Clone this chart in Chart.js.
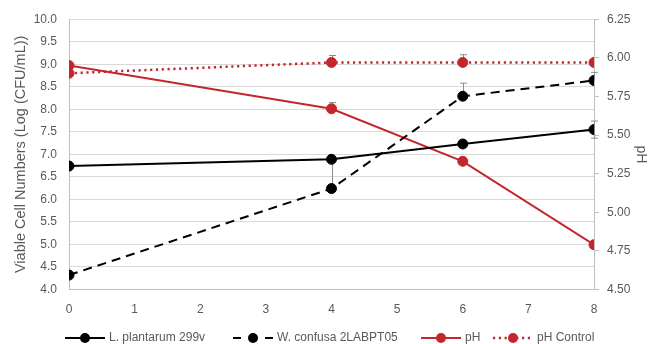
<!DOCTYPE html>
<html><head><meta charset="utf-8">
<script src="https://cdn.jsdelivr.net/npm/chart.js@4.4.0/dist/chart.umd.min.js"></script>
<style>html,body{margin:0;padding:0;background:#fff;}#wrap{width:649px;height:344px;}</style>
</head><body><div id="wrap"><canvas id="c" width="649" height="344"></canvas></div>
<script>
// ---- data ----
const days = [0, 4, 6, 8];
const seriesNames = ['L. plantarum 299v', 'W. confusa 2LABPT05', 'pH', 'pH Control'];
const lPlantarum = [6.74, 6.89, 7.23, 7.55];
const lPlantarumErrUp = [0, 0, 0.05, 0.19];
const lPlantarumErrDown = [0, 0, 0.05, 0.19];
const wConfusa = [4.32, 6.24, 8.29, 8.64];
const wConfusaErrUp = [0, 0.65, 0.29, 0.18];
const wConfusaErrDown = [0, 0, 0, 0];
const pHValues = [5.95, 5.67, 5.33, 4.79];
const pHErrUp = [0, 0.04, 0, 0];
const pHErrDown = [0, 0, 0, 0];
const pHControl = [5.90, 5.97, 5.97, 5.97];
const pHControlErrUp = [0, 0.045, 0.05, 0];
const pHControlErrDown = [0, 0, 0, 0];
const xAxisRange = [0, 8, 1];
const leftAxisRange = [4, 10, 0.5];
const rightAxisRange = [4.5, 6.25, 0.25];
const leftTitle = 'Viable Cell Numbers (Log (CFU/mL))';
const rightTitle = 'pH';

const RED = '#C3262D';
const BLACK = '#000000';
const FONT = '"Liberation Sans", Arial, sans-serif';
const TXT = '#595959';

function pts(vals) { return days.map((d, i) => ({x: d, y: vals[i]})); }

const datasets = [
  {label: seriesNames[0], data: pts(lPlantarum), yAxisID: 'y', borderColor: BLACK, backgroundColor: BLACK,
   borderWidth: 2, pointRadius: 5, pointHoverRadius: 5, pointBorderWidth: 1, errUp: lPlantarumErrUp, errDown: lPlantarumErrDown, legendDash: [], order: 2},
  {label: seriesNames[1], data: pts(wConfusa), yAxisID: 'y', borderColor: BLACK, backgroundColor: BLACK,
   borderWidth: 2, borderDash: [9, 6], pointRadius: 5, pointHoverRadius: 5, pointBorderWidth: 1, errUp: wConfusaErrUp, errDown: wConfusaErrDown, legendDash: [8, 24], order: 1},
  {label: seriesNames[2], data: pts(pHValues), yAxisID: 'y1', borderColor: RED, backgroundColor: RED,
   borderWidth: 2, pointRadius: 5, pointHoverRadius: 5, pointBorderWidth: 1, errUp: pHErrUp, errDown: pHErrDown, legendDash: [], order: 3},
  {label: seriesNames[3], data: pts(pHControl), yAxisID: 'y1', borderColor: RED, backgroundColor: RED,
   borderWidth: 2.5, borderDash: [2.2, 3.6], pointRadius: 5, pointHoverRadius: 5, pointBorderWidth: 1, errUp: pHControlErrUp, errDown: pHControlErrDown, legendDash: [2.2, 3.6], order: 4}
];

const errorBars = {
  id: 'errorBars',
  beforeDatasetsDraw(chart) {
    const ctx = chart.ctx, xs = chart.scales.x;
    ctx.save();
    ctx.strokeStyle = '#8c8c8c';
    ctx.lineWidth = 1;
    chart.data.datasets.forEach(ds => {
      const ys = chart.scales[ds.yAxisID];
      ds.data.forEach((p, i) => {
        const up = ds.errUp[i], dn = ds.errDown[i];
        if (!up && !dn) return;
        const x = Math.round(xs.getPixelForValue(p.x)) + 0.5;
        const y0 = ys.getPixelForValue(p.y - dn), y1 = ys.getPixelForValue(p.y + up);
        ctx.beginPath(); ctx.moveTo(x, y0); ctx.lineTo(x, y1);
        if (up) { ctx.moveTo(x - 3.5, y1); ctx.lineTo(x + 3.5, y1); }
        if (dn) { ctx.moveTo(x - 3.5, y0); ctx.lineTo(x + 3.5, y0); }
        ctx.stroke();
      });
    });
    ctx.restore();
  }
};

const legendPos = [65, 233, 421, 493];
const legendLineLen = 40;
const legendY = 338;
const customLegend = {
  id: 'customLegend',
  afterDraw(chart) {
    const ctx = chart.ctx;
    ctx.save();
    chart.data.datasets.forEach((ds, i) => {
      const x0 = legendPos[i];
      ctx.strokeStyle = ds.borderColor;
      ctx.lineWidth = ds.borderWidth;
      ctx.setLineDash(ds.legendDash);
      ctx.beginPath(); ctx.moveTo(x0, legendY); ctx.lineTo(x0 + legendLineLen, legendY); ctx.stroke();
      ctx.setLineDash([]);
      ctx.fillStyle = ds.backgroundColor;
      ctx.beginPath(); ctx.arc(x0 + legendLineLen / 2, legendY, 5, 0, Math.PI * 2); ctx.fill();
      ctx.fillStyle = TXT;
      ctx.font = '12px ' + FONT;
      ctx.textBaseline = 'middle';
      ctx.textAlign = 'left';
      ctx.fillText(ds.label, x0 + legendLineLen + 4, legendY);
    });
    ctx.restore();
  }
};

new Chart(document.getElementById('c'), {
  type: 'line',
  data: {datasets},
  plugins: [errorBars, customLegend],
  options: {
    responsive: false, animation: false, devicePixelRatio: 1,
    layout: {padding: {top: 19, right: 0, bottom: 0, left: 0}},
    plugins: {legend: {display: false}, tooltip: {enabled: false}},
    elements: {line: {tension: 0}},
    scales: {
      x: {
        type: 'linear', min: xAxisRange[0], max: xAxisRange[1],
        ticks: {stepSize: xAxisRange[2], color: TXT, font: {family: FONT, size: 12}, padding: 5},
        grid: {display: false},
        border: {display: true, color: '#bfbfbf', width: 1},
        afterFit(s) { s.height = 54.5; }
      },
      y: {
        type: 'linear', position: 'left', min: leftAxisRange[0], max: leftAxisRange[1],
        ticks: {stepSize: leftAxisRange[2], color: TXT, font: {family: FONT, size: 12}, padding: 12,
                callback: v => Number(v).toFixed(1)},
        grid: {color: '#d9d9d9', lineWidth: 1, drawTicks: false},
        border: {display: true, color: '#bfbfbf', width: 1},
        title: {display: true, text: leftTitle, color: TXT, font: {family: FONT, size: 14.5}, padding: {top: 12, bottom: 0}},
        afterFit(s) { s.width = 69; }
      },
      y1: {
        type: 'linear', position: 'right', min: rightAxisRange[0], max: rightAxisRange[1],
        ticks: {stepSize: rightAxisRange[2], color: TXT, font: {family: FONT, size: 12}, padding: 8,
                callback: v => Number(v).toFixed(2)},
        grid: {drawOnChartArea: false, drawTicks: true, tickLength: 5, color: '#bfbfbf'},
        border: {display: true, color: '#bfbfbf', width: 1},
        title: {display: true, text: rightTitle, color: TXT, font: {family: FONT, size: 14}, padding: {top: 0, bottom: 0}},
        afterFit(s) { s.width = 55; }
      }
    }
  }
});
</script></body></html>
